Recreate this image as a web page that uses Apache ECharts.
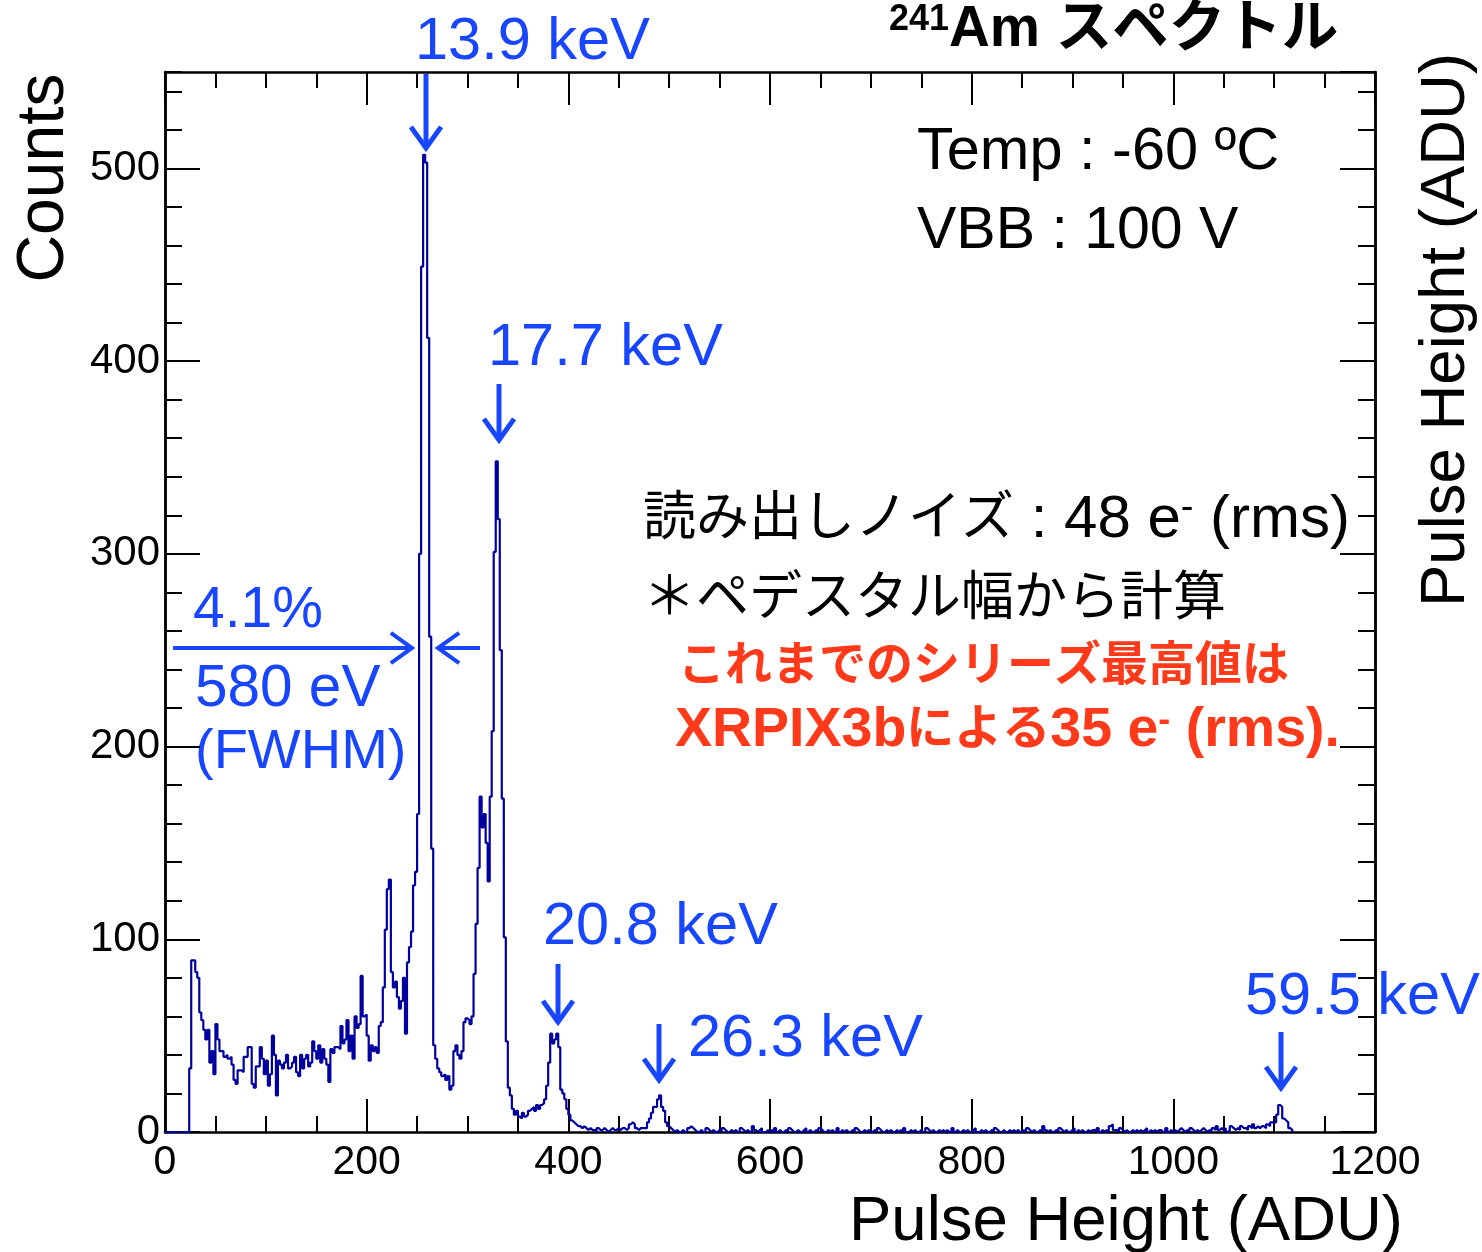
<!DOCTYPE html>
<html><head><meta charset="utf-8">
<script src="https://cdn.jsdelivr.net/npm/echarts/dist/echarts.min.js"></script>
<style>html,body{margin:0;padding:0;background:#fff}#c{width:1482px;height:1252px}</style>
</head><body><div id="c"></div>
<script>
// ---- data ----
const binStart = 24;   // ADU, left edge of first bin
const binWidth = 2;    // ADU
const counts = [
  // 24-122
  33,89,89,83,80,62,58,53,48,53, 36,42,30,56,48,42,42,39,40,38,
  39,35,27,25,32,32,31,39,39,44, 44,25,23,34,34,44,38,30,37,24,
  30,50,40,19,37,35,33,36,40,33,
  // 124-238
  34,36,39,31,29,40,33,38,40,34, 36,47,42,38,45,36,43,38,35,26,
  43,41,44,44,43,55,46,48,58,42, 50,38,60,54,56,81,60,61,50,37,
  45,42,44,41,55,57,75,105,126,131, 83,75,78,70,64,68,80,51,
  // 240-282
  88,96,104,128,135,165,300,449,507,503, 412,257,147,45,38,33,31,29,30,27, 29,22,
  // 284-342
  24,42,45,40,38,42,57,59,58,56, 60,82,108,137,174,158,165,150,130,174,
  208,301,348,318,250,173,101,47,23,19,
  // 344-402
  12,9,11,8,7,10,8,9,11,12, 13,11,14,12,14,15,17,24,36,51,
  46,48,51,44,22,20,17,12,9,6,
  // 404-526
  5,4,3,3,2,3,2,1,2,1, 1,0,2,1,1,2,1,0,1,2, 1,1,2,1,2,2,1,2,4,5,
  4,2,1,2,2,2,2,5,7,10, 13,13,17,19,13,11,5,3,2,1, 0,1,0,0,1,0,0,2,3,2, 1,0,
  // 528-1086
  0,1,0,0,2,1,0,1,0,0,1,0,2,1,0,0,1,0,1,0,
  0,2,1,0,1,0,0,3,1,0,1,2,0,0,1,0,1,0,2,0,
  1,0,0,1,0,2,1,0,0,1,0,0,1,2,0,1,0,0,1,0,
  2,1,0,0,1,0,1,0,0,2,0,1,0,1,0,0,1,0,2,1,
  0,0,1,0,1,0,0,1,0,2,1,0,0,1,0,1,0,0,1,0,
  1,0,2,0,0,1,0,1,0,0,1,0,0,2,1,0,1,0,0,1,
  0,1,0,1,0,0,2,0,1,0,0,1,0,1,0,0,1,2,0,0,
  1,0,1,0,0,1,0,2,1,0,0,1,0,0,1,0,1,0,1,0,
  0,1,0,2,1,0,1,0,0,1,0,3,1,0,1,0,0,1,0,2,
  1,0,1,0,0,1,2,0,1,0,1,0,0,1,0,1,1,0,2,0,
  1,0,1,0,3,4,1,1,0,2,1,0,1,0,0,1,0,1,0,1,
  0,1,2,0,1,0,1,0,1,1,0,0,2,0,1,0,1,0,1,2,
  1,0,1,0,2,1,0,1,0,1,2,1,0,1,0,2,1,3,1,2,
  1,2,0,1,3,2,1,2,1,3,2,2,1,3,2,4,2,3,2,3,
  // 1088-1116
  3,2,4,3,5,5,5,9,14,13,7,6,5,2,1
];
const xTickValues = [0, 200, 400, 600, 800, 1000, 1200];
const yTickValues = [0, 100, 200, 300, 400, 500];
const peakLabels = ['13.9 keV', '17.7 keV', '20.8 keV', '26.3 keV', '59.5 keV'];

// ---- build histogram outline ----
const histData = [[0, 0]];
counts.forEach((c, i) => histData.push([binStart + i * binWidth, c]));
histData.push([binStart + counts.length * binWidth, 0]);

const FF = "'Liberation Sans', 'Noto Sans CJK JP', sans-serif";
const BLUE = '#1846ff';
const RED = '#ff3a1a';
const chart = echarts.init(document.getElementById('c'), null, {renderer: 'canvas'});

function fmt(list) { return v => (list.indexOf(v) >= 0 ? String(v) : ''); }

const axisLineStyle = {color: '#000', width: 2.5};
function yAx(pos, interval, tickLen, labels) {
  return {
    type: 'value', position: pos, min: 0, max: 550, interval: interval,
    axisLine: {show: true, lineStyle: axisLineStyle},
    axisTick: {show: true, inside: true, length: tickLen, lineStyle: {color: '#000', width: 2}},
    axisLabel: {show: labels, fontSize: 42, fontFamily: FF, color: '#000', margin: 5,
      showMaxLabel: false, formatter: fmt(yTickValues)},
    splitLine: {show: false}
  };
}
function xAx(pos, labels) {
  return {
    type: 'value', position: pos, min: 0, max: 1200, interval: 200,
    axisLine: {show: true, onZero: false, lineStyle: axisLineStyle},
    axisTick: {show: true, inside: true, length: 33, lineStyle: {color: '#000', width: 2}},
    minorTick: {show: true, splitNumber: 4, length: 16, lineStyle: {color: '#000', width: 2}},
    axisLabel: {show: labels, fontSize: 41, fontFamily: FF, color: '#000', margin: 10,
      formatter: fmt(xTickValues)},
    splitLine: {show: false}
  };
}

function arrow(x1, y1, x2, y2, color, w, head) {
  const a = Math.atan2(y2 - y1, x2 - x1);
  const sp = 0.62;
  const p1 = [x2 - head * Math.cos(a - sp), y2 - head * Math.sin(a - sp)];
  const p2 = [x2 - head * Math.cos(a + sp), y2 - head * Math.sin(a + sp)];
  return {
    type: 'group', children: [
      {type: 'line', shape: {x1, y1, x2: x2 - 2 * Math.cos(a), y2: y2 - 2 * Math.sin(a)},
        style: {stroke: color, lineWidth: w}},
      {type: 'polyline', shape: {points: [p1, [x2, y2], p2]},
        style: {stroke: color, lineWidth: w, fill: null, lineJoin: 'miter', lineCap: 'butt'}}
    ]
  };
}
function txt(text, x, y, size, color) {
  return {
    type: 'text', x: x, y: y,
    style: {text: text, fontSize: size, fontFamily: FF, fill: color,
      textAlign: 'left', textVerticalAlign: 'middle'}
  };
}

const graphics = [
  // title
  {type: 'text', x: 889, y: 30, style: {
    text: '{sup|241}{b|Am スペクトル}', fontFamily: FF, fill: '#000', textVerticalAlign: 'middle',
    rich: {
      sup: {fontSize: 36, fontWeight: 'bold', fontFamily: FF, verticalAlign: 'top', fill: '#000'},
      b: {fontSize: 56.5, fontWeight: 'bold', fontFamily: FF, fill: '#000'}
    }}},
  // axis titles
  {type: 'text', x: 45, y: 178, rotation: Math.PI / 2, style: {text: 'Counts', fontSize: 66,
    fontFamily: FF, fill: '#000', textAlign: 'center', textVerticalAlign: 'middle'}},
  {type: 'text', x: 1403, y: 1222, style: {text: 'Pulse Height (ADU)', fontSize: 63.5,
    fontFamily: FF, fill: '#000', textAlign: 'right', textVerticalAlign: 'middle'}},
  {type: 'text', x: 1446, y: 330, rotation: Math.PI / 2, style: {text: 'Pulse Height (ADU)', fontSize: 63.5,
    fontFamily: FF, fill: '#000', textAlign: 'center', textVerticalAlign: 'middle'}},
  // condition texts
  txt('Temp : -60 ºC', 917, 153, 59.5, '#000'),
  txt('VBB : 100 V', 917, 232, 59, '#000'),
  {type: 'text', x: 643, y: 520, style: {
    text: '{j|読み出しノイズ}{l| : 48 e}{s|-}{l| (rms)}', fontFamily: FF, fill: '#000', textVerticalAlign: 'middle',
    rich: {
      j: {fontSize: 53, fontFamily: FF, fill: '#000'},
      l: {fontSize: 60, fontFamily: FF, fill: '#000'},
      s: {fontSize: 38, fontFamily: FF, fill: '#000', verticalAlign: 'top'}
    }}},
  txt('＊ペデスタル幅から計算', 643, 600, 53, '#000'),
  {type: 'text', x: 678, y: 667, style: {text: 'これまでのシリーズ最高値は', fontSize: 47,
    fontWeight: 'bold', fontFamily: FF, fill: RED, textVerticalAlign: 'middle'}},
  {type: 'text', x: 675, y: 731, style: {
    text: '{l|XRPIX3b}{j|による}{l|35 e}{s|-}{l| (rms).}', fontFamily: FF, fill: RED, textVerticalAlign: 'middle',
    rich: {
      j: {fontSize: 48, fontWeight: 'bold', fontFamily: FF, fill: RED},
      l: {fontSize: 55.5, fontWeight: 'bold', fontFamily: FF, fill: RED},
      s: {fontSize: 36, fontWeight: 'bold', fontFamily: FF, fill: RED, verticalAlign: 'top'}
    }}},
  // peak labels
  txt(peakLabels[0], 415, 43, 59.5, BLUE),
  txt(peakLabels[1], 488, 349, 59.5, BLUE),
  txt(peakLabels[2], 543, 928, 59.5, BLUE),
  txt(peakLabels[3], 688, 1040, 59.5, BLUE),
  txt(peakLabels[4], 1245, 998, 59.5, BLUE),
  // arrows
  arrow(426, 74, 426, 148, BLUE, 5, 26),
  arrow(499, 384, 499, 440, BLUE, 5, 26),
  arrow(558, 964, 558, 1022, BLUE, 5, 26),
  arrow(659, 1024, 659, 1080, BLUE, 5, 26),
  arrow(1281, 1032, 1281, 1088, BLUE, 5, 26),
  // FWHM
  arrow(173, 648, 412, 648, BLUE, 4, 26),
  arrow(480, 648, 438, 648, BLUE, 4, 26),
  txt('4.1%', 193, 611, 57, BLUE),
  txt('580 eV', 195, 690, 58.5, BLUE),
  txt('(FWHM)', 195, 753, 56, BLUE)
];

chart.setOption({
  animation: false,
  backgroundColor: '#fff',
  grid: {left: 165, right: 107, top: 72, bottom: 120, containLabel: false},
  xAxis: [xAx('bottom', true), xAx('top', false)],
  yAxis: [yAx('left', 100, 35, true), yAx('left', 20, 17, false),
          yAx('right', 100, 35, false), yAx('right', 20, 17, false)],
  series: [{
    type: 'line', xAxisIndex: 0, yAxisIndex: 0, step: 'end', data: histData,
    showSymbol: false, symbol: 'none', clip: true,
    lineStyle: {color: '#0000a0', width: 2.2}, z: 3
  }],
  graphic: graphics
});
</script></body></html>
